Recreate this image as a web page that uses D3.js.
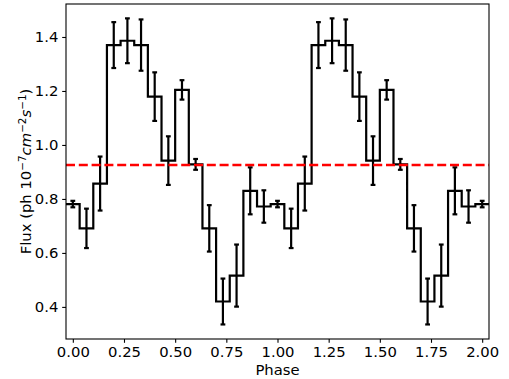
<!DOCTYPE html>
<html>
<head>
<meta charset="utf-8">
<script src="https://cdn.jsdelivr.net/npm/d3@7"></script>
<style>
  body { margin: 0; background: #fff; }
  svg text { font-family: "DejaVu Sans", sans-serif; }
</style>
</head>
<body>
<div id="chart"></div>
<script>
"use strict";

// one cycle of the folded light curve, 15 phase bins (repeated for the 2nd cycle)
var cycle_flux = [0.781, 0.691, 0.857, 1.370, 1.386, 1.370, 1.179, 0.942,
                  1.204, 0.928, 0.691, 0.420, 0.516, 0.830, 0.772];
var cycle_err  = [0.012, 0.073, 0.100, 0.085, 0.083, 0.095, 0.090, 0.090,
                  0.036, 0.020, 0.086, 0.085, 0.115, 0.087, 0.060];
var n_bins = 15;
var mean_flux = 0.926;
var x_ticks = [0, 0.25, 0.5, 0.75, 1, 1.25, 1.5, 1.75, 2];
var y_ticks = [0.4, 0.6, 0.8, 1.0, 1.2, 1.4];

// phases k/15 for k = 0..30
var points = [];
for (var k = 0; k <= 2 * n_bins; k++) {
  points.push({
    x: k / n_bins,
    y: cycle_flux[k % n_bins],
    e: cycle_err[k % n_bins]
  });
}

var W = 509, H = 379;
var margin = {left: 66, right: 20, top: 4, bottom: 40};
var width = W - margin.left - margin.right;
var height = H - margin.top - margin.bottom;
var half = 0.5 / n_bins;
var fs = "14.8px";

var svg = d3.select("#chart")
  .append("svg")
    .attr("width", W)
    .attr("height", H)
  .append("g")
    .attr("transform", "translate(" + margin.left + "," + margin.top + ")");

var x = d3.scaleLinear()
  .domain([-half, 2 + half])
  .range([0, width]);
var y = d3.scaleLinear()
  .domain([0.2811, 1.5222])
  .range([height, 0]);

svg.append("clipPath").attr("id", "clip")
  .append("rect").attr("width", width).attr("height", height);
var plot = svg.append("g").attr("clip-path", "url(#clip)");

// step line (steps-mid, running to the frame edges)
var line = d3.line()
  .x(function(d) { return x(d.x); })
  .y(function(d) { return y(d.y); })
  .curve(d3.curveStep);
var step_pts = [{x: -half, y: points[0].y}].concat(points,
  [{x: 2 + half, y: points[points.length - 1].y}]);
plot.append("path")
  .attr("d", line(step_pts))
  .attr("fill", "none")
  .attr("stroke", "black")
  .attr("stroke-width", 2.2)
  .attr("stroke-linejoin", "miter");

// error bars
var cap = 2.4;
var bars = plot.selectAll("myBars")
  .data(points)
  .enter()
  .append("g");
bars.append("line")
  .attr("x1", function(d) { return x(d.x); })
  .attr("x2", function(d) { return x(d.x); })
  .attr("y1", function(d) { return y(d.y + d.e); })
  .attr("y2", function(d) { return y(d.y - d.e); })
  .attr("stroke", "black")
  .attr("stroke-width", 2.2);
[1, -1].forEach(function(s) {
  bars.append("line")
    .attr("x1", function(d) { return x(d.x) - cap; })
    .attr("x2", function(d) { return x(d.x) + cap; })
    .attr("y1", function(d) { return y(d.y + s * d.e); })
    .attr("y2", function(d) { return y(d.y + s * d.e); })
    .attr("stroke", "black")
    .attr("stroke-width", 2.2);
});

// mean level
plot.append("line")
  .attr("x1", 0)
  .attr("x2", width)
  .attr("y1", y(mean_flux))
  .attr("y2", y(mean_flux))
  .attr("stroke", "red")
  .attr("stroke-width", 2.4)
  .attr("stroke-dasharray", "9,3.8");

// axes
var xAxis = svg.append("g")
  .attr("transform", "translate(0," + height + ")")
  .call(d3.axisBottom(x).tickValues(x_ticks).tickFormat(d3.format(".2f"))
    .tickSize(3.8).tickPadding(3.2));
var yAxis = svg.append("g")
  .call(d3.axisLeft(y).tickValues(y_ticks).tickFormat(d3.format(".1f"))
    .tickSize(3.8).tickPadding(3.8));
[xAxis, yAxis].forEach(function(a) {
  a.select(".domain").remove();
  a.selectAll("line").attr("stroke", "black").attr("stroke-width", 1.1);
  a.selectAll("text").style("font-size", fs).attr("fill", "black");
});

// frame
svg.append("rect")
  .attr("width", width)
  .attr("height", height)
  .attr("fill", "none")
  .attr("stroke", "black")
  .attr("stroke-width", 1.1);

// axis labels
svg.append("text")
  .attr("x", width / 2)
  .attr("y", height + 36)
  .attr("text-anchor", "middle")
  .style("font-size", fs)
  .text("Phase");

var sup = "10.4px";
var ylab = svg.append("text")
  .attr("transform", "translate(" + (31 - margin.left) + "," + (height / 2) + ") rotate(-90)")
  .attr("text-anchor", "middle")
  .style("font-size", fs);
ylab.append("tspan").text("Flux (ph 10");
ylab.append("tspan").attr("dy", -5.5).style("font-size", sup).text("\u22127");
ylab.append("tspan").attr("dy", 5.5).style("font-style", "italic").text("cm");
ylab.append("tspan").attr("dy", -5.5).style("font-size", sup).text("\u22122");
ylab.append("tspan").attr("dy", 5.5).style("font-style", "italic").text("s");
ylab.append("tspan").attr("dy", -5.5).style("font-size", sup).text("\u22121");
ylab.append("tspan").attr("dy", 5.5).text(")");
</script>
</body>
</html>
